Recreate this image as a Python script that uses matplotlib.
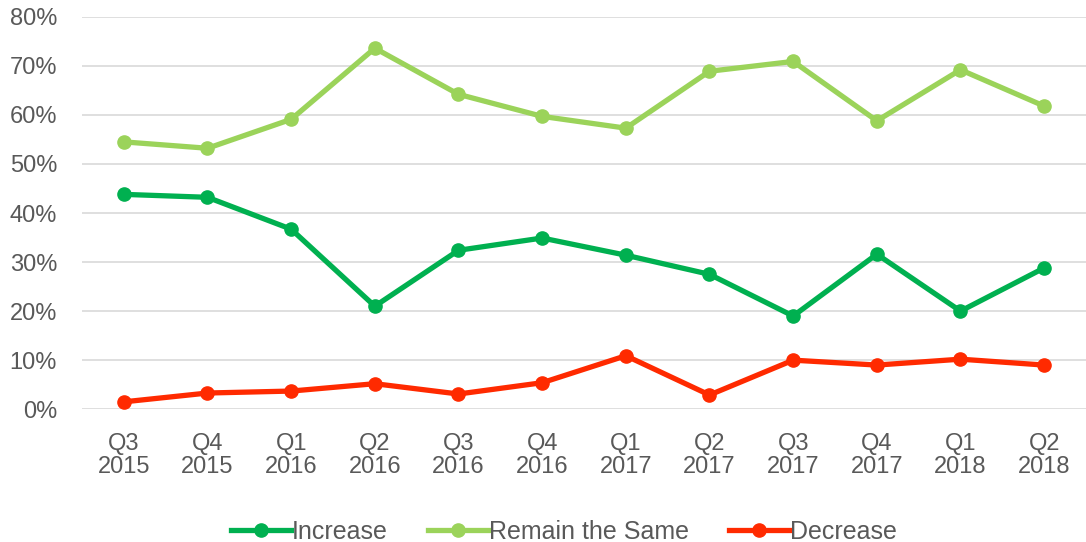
import matplotlib.pyplot as plt
from matplotlib.ticker import FuncFormatter

quarters = ['Q3\n2015', 'Q4\n2015', 'Q1\n2016', 'Q2\n2016', 'Q3\n2016', 'Q4\n2016',
            'Q1\n2017', 'Q2\n2017', 'Q3\n2017', 'Q4\n2017', 'Q1\n2018', 'Q2\n2018']
increase = [43.8, 43.2, 36.7, 21.0, 32.4, 34.9, 31.4, 27.5, 19.0, 31.6, 20.0, 28.8]
remain = [54.5, 53.2, 59.1, 73.6, 64.2, 59.7, 57.3, 68.9, 70.9, 58.8, 69.2, 61.8]
decrease = [1.5, 3.3, 3.7, 5.2, 3.1, 5.4, 10.9, 2.9, 10.0, 9.0, 10.2, 9.0]

plt.rcParams['font.family'] = ['Liberation Sans', 'DejaVu Sans']
text_col = '#595959'

fig = plt.figure(figsize=(10.86, 5.42), dpi=100)
ax = fig.add_axes([0.0755, 0.245, 0.9245, 0.724])
x = range(len(quarters))
ax.plot(x, increase, c='#00b050', lw=3.8, marker='o', ms=9.5, label='Increase', zorder=3)
ax.plot(x, remain, c='#9bd35a', lw=3.8, marker='o', ms=9.5, label='Remain the Same', zorder=3)
ax.plot(x, decrease, c='#ff2a00', lw=3.8, marker='o', ms=9.5, label='Decrease', zorder=3)

ax.set_ylim(0, 80)
ax.set_xlim(-0.5, len(quarters) - 0.5)
ax.set_yticks(range(0, 81, 10))
ax.yaxis.set_major_formatter(FuncFormatter(lambda v, p: '%d%%' % v))
ax.set_xticks(list(x))
ax.set_xticklabels(quarters, linespacing=1.05)
ax.grid(axis='y', color='#d9d9d9', lw=1.2)
ax.set_axisbelow(True)
for s in ax.spines.values():
    s.set_visible(False)
ax.tick_params(length=0, labelsize=17, colors=text_col)
ax.tick_params(axis='x', pad=17)
ax.tick_params(axis='y', pad=18)

ax.legend(loc='center', bbox_to_anchor=(0.48, -0.312), ncol=3, frameon=False,
          fontsize=18, labelcolor=text_col, handlelength=2.4, handletextpad=0.05,
          columnspacing=1.6, borderpad=0)
fig.savefig('out.png', dpi=100)
